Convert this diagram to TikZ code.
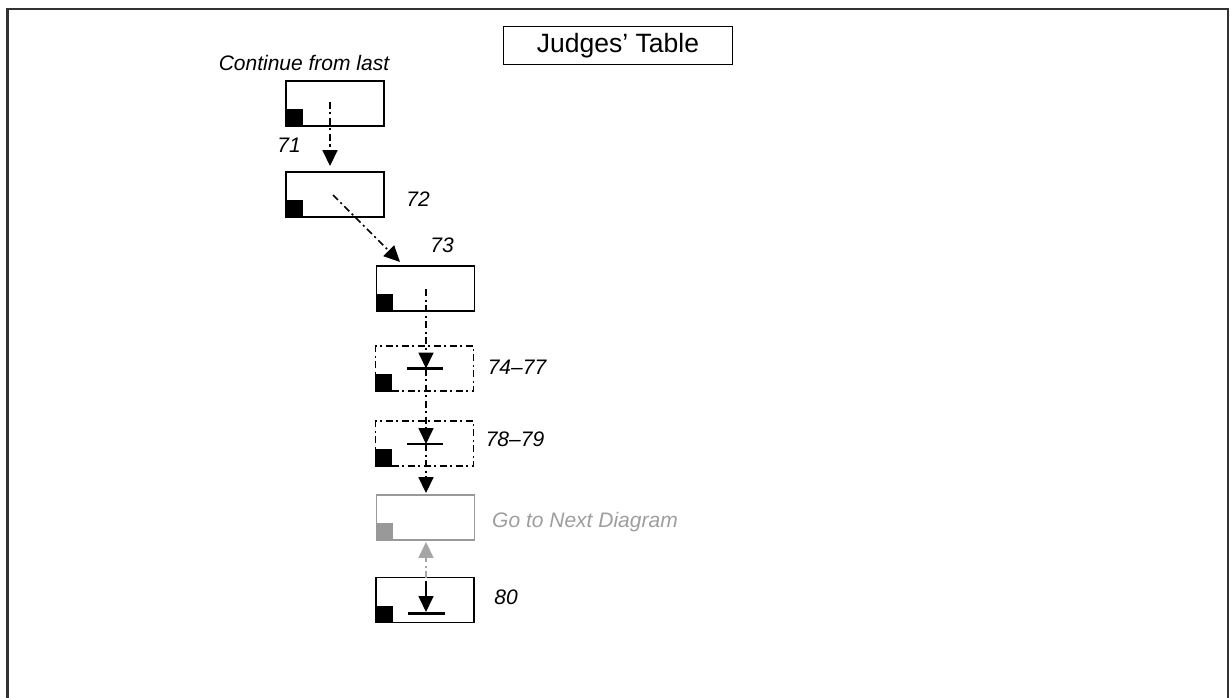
\documentclass[tikz,border=0pt]{standalone}
\usepackage{fontspec}
\setmainfont{Liberation Sans}
\usetikzlibrary{arrows.meta,calc}
\begin{document}
\begin{tikzpicture}[x=1pt,y=-1pt,
  dashdot/.style={dash pattern=on 7pt off 3.5pt on 2pt off 3.5pt},
  box/.style={draw,line width=1.9pt,minimum width=98pt,minimum height=45pt,inner sep=0pt},
  dbox/.style={box,dashdot,line width=1.6pt},
  gbox/.style={box,draw=black!40},
  conn/.style={line width=1.7pt,dashdot,-{Triangle[length=16pt,width=15pt]}},
  gconn/.style={conn,draw=black!35,-{Triangle[length=16pt,width=15pt,fill=black!35]}},
  lbl/.style={font=\itshape\fontsize{21}{24}\selectfont,inner sep=0pt},
  barline/.style={line width=2.2pt}]
\useasboundingbox (0,0) rectangle (1231,698);
\draw[line width=2.2pt,black!80] (7.5,698) -- (7.5,9) -- (1228,9) -- (1228,698);
% title
\node[draw,line width=1.7pt,minimum width=229pt,minimum height=38pt,inner sep=0pt,font=\fontsize{26.5}{30}\selectfont] (title) at (618,45.5) {Judges' Table};
\node[lbl] (cont) at (304,63) {Continue from last};
% boxes
\node[box] (b1) at (335,103.5) {};
\node[box] (b2) at (335,194.5) {};
\node[box] (b3) at (425.5,288.5) {};
\node[dbox] (b4) at (424.5,368.5) {};
\node[dbox] (b5) at (424.5,443.5) {};
\node[gbox] (b6) at (425.5,517.5) {};
\node[box] (b7) at (425,600) {};
% black squares
\foreach \b in {b1,b2,b3,b4,b5,b7}{\fill (\b.south west) rectangle +(17.5,-17.5);}
\fill[black!40] (b6.south west) rectangle +(17.5,-17.5);
% labels
\node[lbl] (l71) at (289,145) {71};
\node[lbl] (l72) at (418,199) {72};
\node[lbl] (l73) at (442,245) {73};
\node[lbl] (l74) at (517,367) {74–77};
\node[lbl] (l78) at (515,439) {78–79};
\node[lbl,text=black!38] (l6) at (585,522) {Go to Next Diagram};
\node[lbl] (l80) at (506,597) {80};
% coordinates
\coordinate (s1) at (330,102);
\coordinate (s2) at (333,195);
\coordinate (t3) at (400,262);
\coordinate (s3) at (426,289);
\coordinate (k4) at (426,368.5);
\coordinate (k5) at (426,444);
\coordinate (s7) at (426,578);
\coordinate (k7) at (426,613.5);
% bars
\draw[barline] ($(k4)+(-19,0)$) -- ($(k4)+(17,0)$);
\draw[barline] ($(k5)+(-19,0)$) -- ($(k5)+(17,0)$);
\draw[barline] ($(k7)+(-18,0)$) -- ($(k7)+(19,0)$);
% connectors
\draw[conn,shorten >=5pt] (s1) -- (s1 |- b2.north);
\draw[conn] (s2) -- (t3);
\draw[conn] (s3) -- (k4);
\draw[conn] (k4) -- (k5);
\draw[conn,shorten >=1pt] (k5) -- (k5 |- b6.north);
\draw[gconn,shorten >=1pt] (s7) -- (s7 |- b6.south);
\draw[line width=1.7pt,-{Triangle[length=16pt,width=15pt]}] ($(s7)+(0,3)$) -- ($(k7)+(0,-1.5)$);
\end{tikzpicture}
\end{document}
